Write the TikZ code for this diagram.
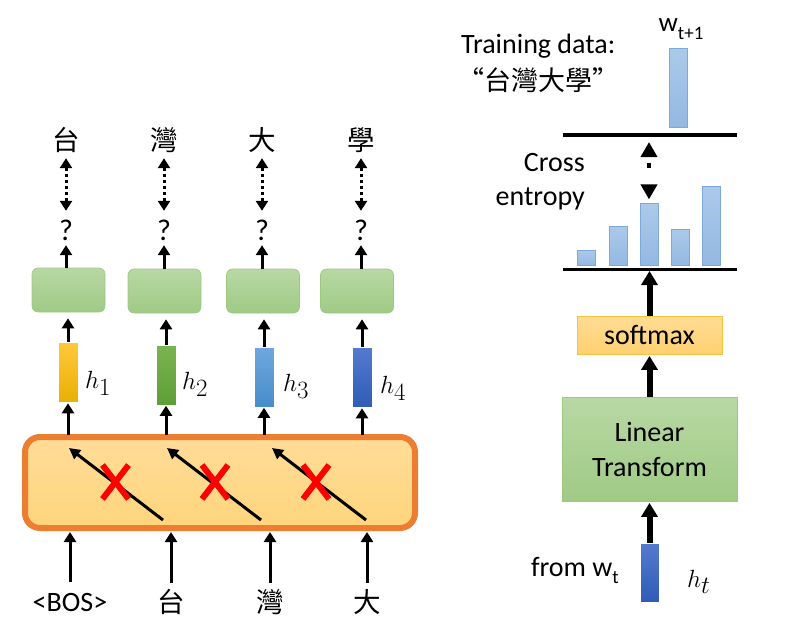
\documentclass[tikz,border=0pt]{standalone}
\usepackage{fontspec}
\setmainfont{Carlito}
\newfontfamily\cjk{Noto Sans CJK TC}
\usetikzlibrary{arrows.meta}
\definecolor{gtop}{HTML}{B8D8A4}
\definecolor{gbot}{HTML}{9FCA85}
\definecolor{gdraw}{HTML}{9CC882}
\definecolor{otop}{HTML}{FFDC98}
\definecolor{obot}{HTML}{FFD57C}
\definecolor{odraw}{HTML}{ED7D31}
\definecolor{stop}{HTML}{FFDC94}
\definecolor{sbot}{HTML}{FFD070}
\definecolor{sdraw}{HTML}{F5C242}
\definecolor{btop}{HTML}{ABCAEA}
\definecolor{bbot}{HTML}{93B8E2}
\definecolor{bdraw}{HTML}{7FA8DA}
\definecolor{ytop}{HTML}{FFC83C}
\definecolor{ybot}{HTML}{E8B000}
\definecolor{grtop}{HTML}{7AB452}
\definecolor{grbot}{HTML}{5E9E36}
\definecolor{lbtop}{HTML}{70A8DE}
\definecolor{lbbot}{HTML}{488CCC}
\definecolor{dbtop}{HTML}{547ACE}
\definecolor{dbbot}{HTML}{2F5CB6}
\begin{document}
\begin{tikzpicture}[x=1pt,y=-1pt,
  txt/.style={font=\fontsize{28}{35}\selectfont, inner sep=0pt},
  ch/.style={font=\cjk\fontsize{27.5}{30}\selectfont, inner sep=0pt, anchor=base, text height=20pt, text depth=4pt},
  qm/.style={font=\fontsize{30}{32}\selectfont, inner sep=0pt, anchor=base, text height=19pt, text depth=0pt},
  mth/.style={font=\fontsize{33}{36}\selectfont, inner sep=0pt, anchor=base west},
  gbox/.style={rounded corners=6pt, minimum width=73pt, minimum height=44pt, draw=gdraw, line width=0.6pt, top color=gtop, bottom color=gbot, inner sep=0pt},
  hbar/.style={minimum width=20pt, minimum height=60pt, inner sep=0pt, draw=white, line width=0.6pt},
  pbar/.style={minimum width=18pt, inner sep=0pt, anchor=south, draw=bdraw, line width=0.6pt, top color=btop, bottom color=bbot},
  arr/.style={line width=3pt, -{Triangle[width=12pt,length=10pt]}},
  darr/.style={line width=3pt, dash pattern=on 3pt off 3pt, {Triangle[width=12pt,length=10pt]}-{Triangle[width=12pt,length=10pt]}},
  bigarr/.style={line width=6pt, -{Triangle[width=16pt,length=14pt]}},
  bigdarr/.style={line width=4.5pt, dash pattern=on 0pt off 6.5pt on 5pt off 30pt, {Triangle[width=16pt,length=15pt]}-{Triangle[width=16pt,length=15pt]}},
  cross/.style={red, line width=6pt},
]
\useasboundingbox (0,0) rectangle (787,626);

% ---------------- left part ----------------
\node[ch] (t1) at (66,150) {台};
\node[ch] (t2) at (164,150) {灣};
\node[ch] (t3) at (262,150) {大};
\node[ch] (t4) at (361,150) {學};
\node[qm] (q1) at (66,240) {?};
\node[qm] (q2) at (164,240) {?};
\node[qm] (q3) at (262,240) {?};
\node[qm] (q4) at (361,240) {?};
\node[gbox] (g1) at (68.5,290) {};
\node[gbox] (g2) at (164.5,291) {};
\node[gbox] (g3) at (263,291) {};
\node[gbox] (g4) at (357,291) {};
\node[hbar, top color=ytop, bottom color=ybot] (b1) at (68,372.5) {};
\node[hbar, top color=grtop, bottom color=grbot] (b2) at (166,375) {};
\node[hbar, top color=lbtop, bottom color=lbbot] (b3) at (264,377) {};
\node[hbar, top color=dbtop, bottom color=dbbot] (b4) at (362,377.5) {};
\node[mth] (l1) at (85,388) {$h_1$};
\node[mth] (l2) at (182,389) {$h_2$};
\node[mth] (l3) at (283,391) {$h_3$};
\node[mth] (l4) at (380,393) {$h_4$};
\node[rounded corners=15pt, minimum width=390pt, minimum height=91pt, draw=odraw, line width=6pt, top color=otop, bottom color=obot, inner sep=0pt] (ob) at (220,482.5) {};
\node[ch, font=\fontsize{28}{30}\selectfont] (i1) at (70,611) {<BOS>};
\node[ch] (i2) at (171,612) {台};
\node[ch] (i3) at (270,612) {灣};
\node[ch] (i4) at (367,612) {大};

\foreach \i in {1,2,3,4}{
  \draw[darr, shorten <=10pt, shorten >=4pt] (q\i.north) -- (t\i.south);
  \draw[arr, shorten >=5pt] (q\i|-g\i.north) -- (q\i.south);
  \draw[arr, shorten >=6pt] (b\i.north) -- (b\i|-g\i.south);
  \draw[arr, shorten <=-1pt, shorten >=0.5pt] (b\i|-ob.north) -- (b\i.south);
  \draw[arr, shorten <=9pt, shorten >=1pt] (i\i.north) -- (i\i|-ob.south);
}
\coordinate (d1s) at (163,520); \coordinate (d1e) at (69,448);
\coordinate (d2s) at (261,520); \coordinate (d2e) at (167,448);
\coordinate (d3s) at (366,520); \coordinate (d3e) at (272,448);
\foreach \i in {1,2,3}{
  \draw[line width=3pt, -{Triangle[width=11pt,length=11pt]}] (d\i s) -- (d\i e);
}
\foreach \cx in {115.5,215,316}{
  \draw[cross] (\cx-13,482-17) -- (\cx+13,482+17);
  \draw[cross] (\cx+13,482-17) -- (\cx-13,482+17);
}

% ---------------- right part ----------------
\node[txt, anchor=base west] (td) at (461,54) {Training data:};
\node[txt, anchor=west, font=\cjk\fontsize{27}{30}\selectfont] (tq) at (457,80) {“台灣大學”};
\node[pbar, minimum height=79pt] (tb) at (678,128) {};
\node[txt, anchor=base, font=\fontsize{27}{28}\selectfont] (wl) at (681,32) {w\raisebox{-0.28em}{\fontsize{19}{20}\selectfont t+1}};
\coordinate (L1a) at (563,135); \coordinate (L1b) at (737,135);
\draw[line width=3.5pt] (L1a) -- (L1b);

\node[txt, anchor=base east] (ce1) at (585,171) {Cross};
\node[txt, anchor=base east] (ce2) at (585,205) {entropy};

\node[pbar, minimum height=15pt] (p1) at (586.5,266) {};
\node[pbar, minimum height=39pt] (p2) at (618,266) {};
\node[pbar, minimum height=62pt] (p3) at (649,266) {};
\node[pbar, minimum height=36pt] (p4) at (680,266) {};
\node[pbar, minimum height=79pt] (p5) at (711,266) {};
\coordinate (L2a) at (563,269.5); \coordinate (L2b) at (737,269.5);
\draw[line width=3.5pt] (L2a) -- (L2b);

\coordinate (ca) at (649,137);
\draw[bigdarr, shorten <=5pt, shorten >=4pt] (ca) -- (p3.north);

\node[draw=sdraw, line width=0.8pt, top color=stop, bottom color=sbot, minimum width=145pt, minimum height=38pt, inner sep=0pt, txt] (sm) at (649.5,335) {softmax};
\node[draw=gdraw, line width=0.8pt, top color=gtop, bottom color=gbot, minimum width=175pt, minimum height=104pt, inner sep=0pt, txt, align=center] (lt) at (649.5,449) {Linear\\Transform};
\node[hbar, minimum width=19pt, minimum height=59pt, top color=dbtop, bottom color=dbbot] (ht) at (649.5,572.5) {};
\node[txt, anchor=base east] (fw) at (619,576) {from w\raisebox{-0.28em}{\fontsize{19}{20}\selectfont t}};
\node[mth] (hl) at (687,587) {$h_t$};

\draw[bigarr, shorten >=1.5pt] (ht.north) -- (lt.south);
\draw[bigarr, shorten >=1.5pt] (lt.north) -- (sm.south);
\draw[bigarr, shorten >=1.5pt] (sm.north) -- (sm.north|-L2a);
\end{tikzpicture}
\end{document}
